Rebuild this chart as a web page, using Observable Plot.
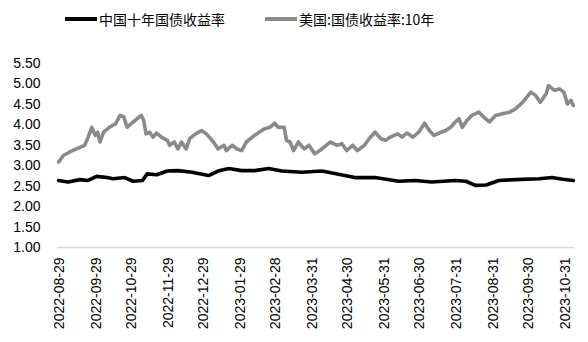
<!DOCTYPE html>
<html>
<head>
<meta charset="utf-8">
<script src="https://cdn.jsdelivr.net/npm/d3@7"></script>
<script src="https://cdn.jsdelivr.net/npm/@observablehq/plot@0.6"></script>
<style>
  body { margin: 0; background: #fff; }
  #wrap { position: relative; width: 588px; height: 342px; overflow: hidden; }
  #legend { position: absolute; top: 8px; left: 0; width: 588px; height: 22px;
    font-family: "Noto Sans CJK SC", sans-serif; font-size: 14px; color: #000; }
  .item { position: absolute; top: 0; display: flex; align-items: center; height: 22px; }
  .sw { width: 32px; height: 4px; margin-right: 2px; }
  svg { position: absolute; top: 0; left: 0; }
</style>
</head>
<body>
<div id="wrap">
  <div id="legend"></div>
</div>
<script>
const seriesNames = ["中国十年国债收益率", "美国:国债收益率:10年"];
const seriesColors = ["#000000", "#8a8a8a"];

const cnDates = ["2022-08-28","2022-09-05","2022-09-15","2022-09-22","2022-09-29","2022-10-08","2022-10-13","2022-10-23","2022-10-30","2022-11-07","2022-11-11","2022-11-19","2022-11-28","2022-12-07","2022-12-19","2023-01-02","2023-01-10","2023-01-19","2023-01-30","2023-02-10","2023-02-22","2023-03-05","2023-03-22","2023-04-08","2023-04-21","2023-05-06","2023-05-23","2023-06-12","2023-06-26","2023-07-10","2023-07-30","2023-08-08","2023-08-16","2023-08-25","2023-09-05","2023-09-19","2023-10-09","2023-10-20","2023-10-29","2023-11-07"];
const cnValues = [2.64,2.60,2.66,2.64,2.74,2.71,2.68,2.71,2.62,2.64,2.80,2.78,2.87,2.88,2.84,2.76,2.87,2.93,2.88,2.88,2.93,2.87,2.84,2.87,2.80,2.71,2.71,2.62,2.64,2.60,2.64,2.62,2.52,2.53,2.64,2.66,2.68,2.71,2.67,2.64];

const usDates = ["2022-08-28","2022-09-01","2022-09-06","2022-09-12","2022-09-19","2022-09-22","2022-09-25","2022-09-28","2022-09-30","2022-10-02","2022-10-05","2022-10-10","2022-10-15","2022-10-19","2022-10-22","2022-10-25","2022-10-30","2022-11-06","2022-11-08","2022-11-10","2022-11-13","2022-11-16","2022-11-19","2022-11-23","2022-11-28","2022-11-30","2022-12-04","2022-12-07","2022-12-10","2022-12-14","2022-12-17","2022-12-22","2022-12-27","2022-12-31","2023-01-05","2023-01-08","2023-01-10","2023-01-15","2023-01-17","2023-01-22","2023-01-26","2023-01-30","2023-02-03","2023-02-08","2023-02-12","2023-02-18","2023-02-23","2023-02-27","2023-03-02","2023-03-07","2023-03-09","2023-03-12","2023-03-15","2023-03-19","2023-03-24","2023-03-28","2023-04-02","2023-04-08","2023-04-15","2023-04-21","2023-04-25","2023-04-29","2023-05-04","2023-05-08","2023-05-14","2023-05-18","2023-05-23","2023-05-28","2023-06-01","2023-06-05","2023-06-11","2023-06-15","2023-06-19","2023-06-24","2023-06-29","2023-07-04","2023-07-08","2023-07-12","2023-07-18","2023-07-22","2023-07-26","2023-07-30","2023-08-02","2023-08-05","2023-08-09","2023-08-13","2023-08-19","2023-08-23","2023-08-28","2023-09-02","2023-09-08","2023-09-14","2023-09-19","2023-09-25","2023-10-02","2023-10-06","2023-10-10","2023-10-15","2023-10-17","2023-10-22","2023-10-26","2023-10-30","2023-11-02","2023-11-05","2023-11-07"];
const usValues = [3.09,3.25,3.33,3.41,3.50,3.70,3.94,3.74,3.82,3.58,3.82,3.94,4.02,4.23,4.20,3.94,4.07,4.23,4.11,3.78,3.82,3.70,3.80,3.70,3.62,3.50,3.58,3.41,3.58,3.41,3.66,3.78,3.86,3.78,3.62,3.50,3.41,3.50,3.37,3.50,3.41,3.37,3.58,3.70,3.78,3.90,3.94,4.04,3.94,3.94,3.62,3.58,3.37,3.58,3.41,3.50,3.29,3.41,3.58,3.50,3.54,3.37,3.50,3.37,3.50,3.66,3.82,3.66,3.62,3.70,3.78,3.70,3.80,3.70,3.82,4.04,3.86,3.74,3.82,3.86,3.94,4.07,4.15,3.94,4.11,4.23,4.31,4.19,4.07,4.23,4.27,4.31,4.39,4.55,4.80,4.72,4.55,4.76,4.96,4.84,4.88,4.80,4.51,4.60,4.47];

const xTickLabels = ["2022-08-29","2022-09-29","2022-10-29","2022-11-29","2022-12-29","2023-01-29","2023-02-28","2023-03-31","2023-04-30","2023-05-31","2023-06-30","2023-07-31","2023-08-31","2023-09-30","2023-10-31"];
const yTicks = [1.0,1.5,2.0,2.5,3.0,3.5,4.0,4.5,5.0,5.5];

const parse = d3.utcParse("%Y-%m-%d");
const rows = [
  ...usDates.map((d, i) => ({date: parse(d), value: usValues[i], series: seriesNames[1]})),
  ...cnDates.map((d, i) => ({date: parse(d), value: cnValues[i], series: seriesNames[0]}))
];

const chart = Plot.plot({
  width: 588,
  height: 342,
  marginTop: 63,
  marginBottom: 95,
  marginLeft: 57,
  marginRight: 14,
  style: {fontFamily: "'Liberation Sans', Arial, sans-serif", fontSize: "14px", color: "#000", background: "transparent"},
  x: {type: "utc", domain: [parse("2022-08-27"), parse("2023-11-08")]},
  y: {domain: [1, 5.5]},
  color: {domain: seriesNames, range: seriesColors},
  marks: [
    Plot.ruleY([1], {stroke: "#d9d9d9", strokeWidth: 1.5}),
    Plot.axisY({ticks: yTicks, tickFormat: d3.format(".2f"), tickSize: 0, tickPadding: 17, label: null, fontSize: 14}),
    Plot.axisX({ticks: xTickLabels.map(parse), tickFormat: d3.utcFormat("%Y-%m-%d"), tickSize: 0, tickPadding: 10, tickRotate: -90, label: null, fontSize: 14}),
    Plot.line(rows, {x: "date", y: "value", z: "series", stroke: "series", strokeWidth: 3.6, strokeLinejoin: "round"})
  ]
});
document.getElementById("wrap").appendChild(chart);

const legend = document.getElementById("legend");
const lpos = [65, 265];
seriesNames.forEach((name, i) => {
  const it = document.createElement("div");
  it.className = "item";
  it.style.left = lpos[i] + "px";
  const sw = document.createElement("span");
  sw.className = "sw";
  sw.style.background = seriesColors[i];
  const tx = document.createElement("span");
  tx.textContent = name;
  it.appendChild(sw); it.appendChild(tx);
  legend.appendChild(it);
});
</script>
</body>
</html>
